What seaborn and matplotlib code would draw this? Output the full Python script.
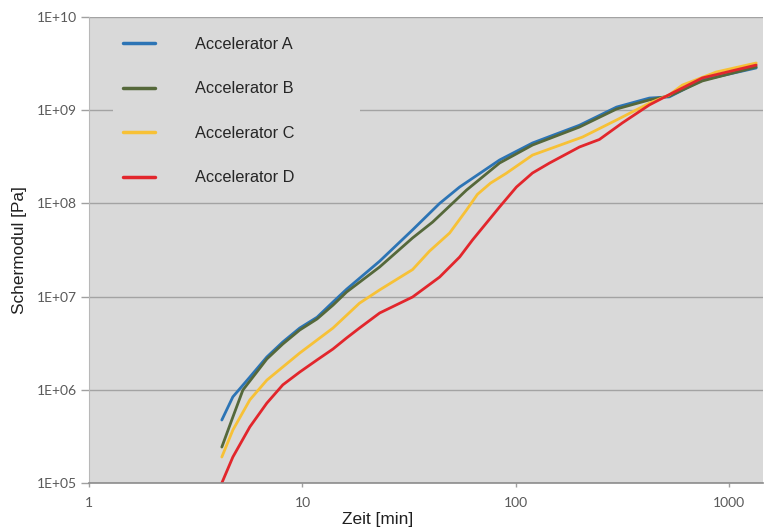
import matplotlib
matplotlib.use("Agg")
import matplotlib.pyplot as plt
import pandas as pd
import seaborn as sns
from matplotlib.ticker import FixedLocator, FixedFormatter, NullLocator

# Curves (Zeit in min, Schermodul in Pa)
time_a = [4.19, 4.72, 5.67, 6.81, 8.09, 9.71, 11.7, 13.9, 16.1, 23.0, 32.8, 43.9,
          54.5, 83.8, 119.6, 198.5, 296, 422, 523, 747, 1336]
modulus_a = [4.74e5, 8.4e5, 1.37e6, 2.25e6, 3.26e6, 4.6e6, 6.0e6, 8.75e6, 1.2e7, 2.4e7,
             5.2e7, 1.0e8, 1.5e8, 2.92e8, 4.45e8, 6.9e8, 1.08e9, 1.35e9, 1.39e9, 2.11e9, 2.84e9]

time_b = [4.19, 4.72, 5.26, 6.11, 6.81, 8.09, 9.71, 11.7, 13.9, 16.1, 23.0, 32.8, 40.7,
          58.7, 83.8, 119.6, 198.5, 296, 422, 523, 747, 1336]
modulus_b = [2.43e5, 5.1e5, 9.95e5, 1.55e6, 2.14e6, 3.1e6, 4.38e6, 5.75e6, 8.1e6, 1.12e7,
             2.08e7, 4.26e7, 6.3e7, 1.39e8, 2.71e8, 4.23e8, 6.6e8, 1.03e9, 1.29e9, 1.42e9,
             2.06e9, 2.91e9]

time_c = [4.19, 4.72, 5.67, 6.81, 9.71, 13.9, 18.5, 23.0, 32.8, 39.4, 48.9, 58.7, 66.0,
          76.0, 90.0, 119.6, 205, 296, 422, 523, 602, 868, 1336]
modulus_c = [1.9e5, 3.7e5, 7.8e5, 1.27e6, 2.48e6, 4.6e6, 8.5e6, 1.18e7, 1.95e7, 3.08e7,
             4.81e7, 8.5e7, 1.25e8, 1.65e8, 2.1e8, 3.3e8, 5.15e8, 7.85e8, 1.19e9, 1.46e9,
             1.86e9, 2.57e9, 3.21e9]

time_d = [4.19, 4.72, 5.67, 6.81, 8.09, 9.71, 11.7, 13.9, 16.1, 18.5, 23.0, 32.8, 43.9,
          54.5, 62.6, 83.8, 100.6, 119.6, 143.6, 198.5, 246, 315, 422, 541, 747, 1336]
modulus_d = [1.0e5, 1.9e5, 4.0e5, 7.2e5, 1.13e6, 1.55e6, 2.09e6, 2.74e6, 3.6e6, 4.6e6,
             6.67e6, 9.9e6, 1.62e7, 2.66e7, 4.05e7, 9.15e7, 1.5e8, 2.12e8, 2.71e8, 4.03e8,
             4.85e8, 7.3e8, 1.14e9, 1.53e9, 2.22e9, 3.05e9]

series_names = ["Accelerator A", "Accelerator B", "Accelerator C", "Accelerator D"]
series_colors = ["#2C74B5", "#55683A", "#F7C136", "#E2262C"]

x_ticks = [1, 10, 100, 1000]
x_tick_labels = ["1", "10", "100", "1000"]
y_ticks = [1e5, 1e6, 1e7, 1e8, 1e9, 1e10]
y_tick_labels = ["1E+05", "1E+06", "1E+07", "1E+08", "1E+09", "1E+10"]

frames = []
for name, t, g in zip(series_names,
                      [time_a, time_b, time_c, time_d],
                      [modulus_a, modulus_b, modulus_c, modulus_d]):
    frames.append(pd.DataFrame({"Zeit": t, "Schermodul": g, "Serie": name}))
df = pd.concat(frames, ignore_index=True)

sns.set_style("white", {"axes.facecolor": "#D9D9D9"})
plt.rcParams["font.family"] = ["Liberation Sans", "DejaVu Sans"]

fig = plt.figure(figsize=(7.64, 5.30), dpi=100)
ax = fig.add_axes([0.1165, 0.0887, 0.882, 0.8792])

sns.lineplot(data=df, x="Zeit", y="Schermodul", hue="Serie", hue_order=series_names,
             palette=dict(zip(series_names, series_colors)), estimator=None, sort=False,
             linewidth=2.0, ax=ax)

ax.set_xscale("log")
ax.set_yscale("log")
ax.set_xlim(1, 1435)
ax.set_ylim(1e5, 1e10)

ax.xaxis.set_major_locator(FixedLocator(x_ticks))
ax.xaxis.set_major_formatter(FixedFormatter(x_tick_labels))
ax.xaxis.set_minor_locator(NullLocator())
ax.yaxis.set_major_locator(FixedLocator(y_ticks))
ax.yaxis.set_major_formatter(FixedFormatter(y_tick_labels))
ax.yaxis.set_minor_locator(NullLocator())

ax.yaxis.grid(True, color="#A3A3A3", linewidth=1.0)
ax.xaxis.grid(False)
ax.set_axisbelow(True)

for side in ["top", "right"]:
    ax.spines[side].set_visible(False)
ax.spines["left"].set_color("#B8B8B8")
ax.spines["bottom"].set_color("#8C8C8C")
ax.spines["bottom"].set_linewidth(1.2)

ax.tick_params(axis="y", direction="out", length=6, width=1, color="#A0A0A0",
               pad=3, labelsize=10, labelcolor="#595959", left=True)
ax.tick_params(axis="x", direction="out", length=3, width=1, color="#A0A0A0",
               pad=7, labelsize=10, labelcolor="#595959", bottom=True)
for lbl in ax.get_xticklabels() + ax.get_yticklabels():
    lbl.set_family(["Lato", "DejaVu Sans"])

ax.set_xlabel("Zeit [min]", fontsize=12.4, color="#202020")
ax.set_ylabel("Schermodul [Pa]", fontsize=12.4, color="#202020")
ax.xaxis.set_label_coords(0.429, -0.062)
ax.yaxis.set_label_coords(-0.092, 0.5)

handles, labels = ax.get_legend_handles_labels()
leg = ax.legend(handles, labels, loc="upper left",
                bbox_to_anchor=(0.0356, 0.6, 0.367, 0.3785), mode="expand",
                frameon=True, facecolor="#D9D9D9", edgecolor="none", framealpha=1,
                fontsize=11.8, handlelength=1.95, handletextpad=2.44, labelspacing=1.8,
                borderpad=0.6, borderaxespad=0)
for line in leg.get_lines():
    line.set_linewidth(2.5)

fig.savefig("out.png", dpi=100)
